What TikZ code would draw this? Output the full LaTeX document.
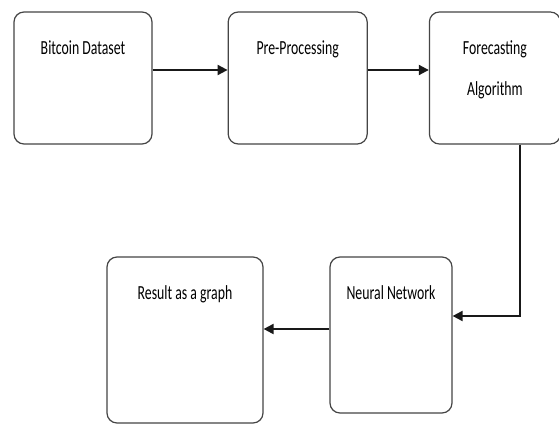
\documentclass[tikz,border=0pt]{standalone}
\usepackage{fontspec}
\setmainfont{Carlito}
\usetikzlibrary{shapes,arrows.meta,positioning}
\definecolor{edgegray}{rgb}{.27,.27,.27}
\newcommand{\tx}[1]{\scalebox{0.69}[1]{#1}}

\begin{document}
\begin{tikzpicture}[x=1pt,y=-1pt,% pixel-like units, y runs downwards
			every node/.style={
				align=center,		% so that "\\" works in the labels
				font=\fontsize{20}{41}\selectfont
			},
			stage/.style={
				rectangle,rounded corners=10pt,draw=edgegray,line width=1.2pt,
				fill=white,minimum height=132pt,inner sep=0pt
			},
			caption/.style={anchor=base,yshift=-43pt,inner sep=0pt},
			flow/.style={draw=black!90,line width=2pt,-{Triangle[length=10pt,width=10pt]}}
		]
		\useasboundingbox[fill=white] (0,0) rectangle (559,425);
		\node[stage,minimum width=138pt](bitcoin) at (83,78){};
		\node[stage,minimum width=139pt](prep)[right=75pt of bitcoin]{};
		\node[stage,minimum width=131pt](forecast)[right=61pt of prep]{};
		\node[stage,minimum width=122pt,minimum height=156pt](neural) at (391,335){};
		\node[stage,minimum width=156pt,minimum height=166pt](result) at (185,340){};
		% texts sit near the top edge of each box (base = last line)
		\node[caption](bitcointxt) at (bitcoin.north){\tx{Bitcoin Dataset}};
		\node[caption](preptxt) at (prep.north){\tx{Pre-Processing}};
		\node[caption,yshift=-41pt](forecasttxt) at (forecast.north){\tx{Forecasting}\\\tx{Algorithm}};
		\node[caption](neuraltxt) at (neural.north){\tx{Neural Network}};
		\node[caption](resulttxt) at (result.north){\tx{Result as a graph}};
		\coordinate (bend) at (520,316);
		\coordinate[yshift=6pt] (nnout) at (neural.west);
		\draw[flow] ([yshift=8pt]bitcoin.east) -- ([yshift=8pt]prep.west);
		\draw[flow] ([yshift=8pt]prep.east) -- ([yshift=8pt]forecast.west);
		\draw[flow] (forecast.south -| bend) -- (bend) -- (neural.east |- bend);
		\draw[flow] (nnout) -- (result.east |- nnout);
	\end{tikzpicture}
\end{document}
